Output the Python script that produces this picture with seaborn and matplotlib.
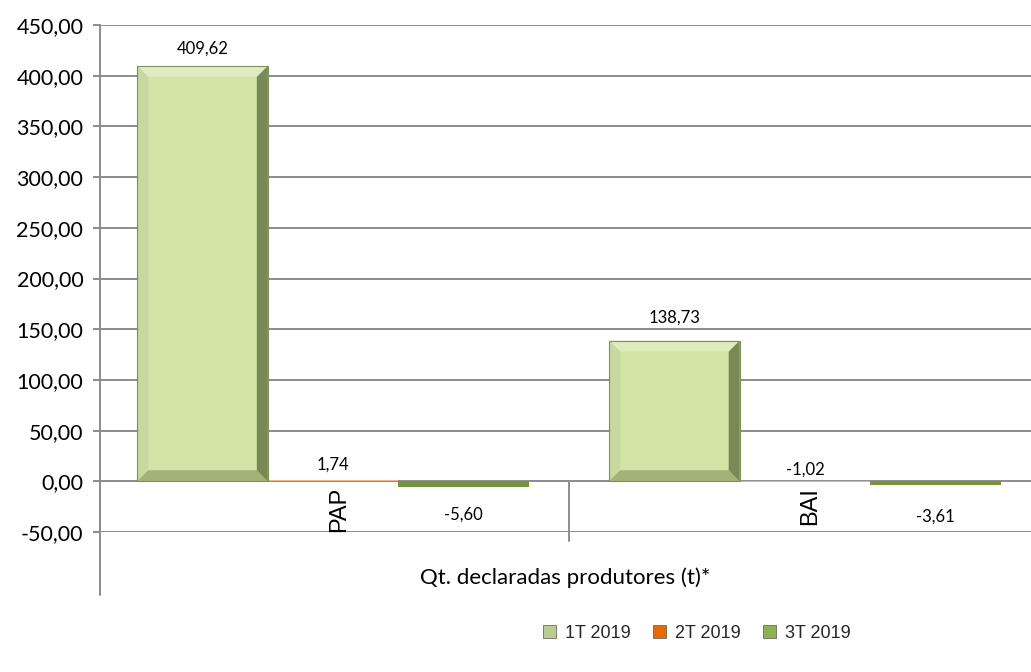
import numpy as np
import pandas as pd
import matplotlib
matplotlib.use("Agg")
import matplotlib.pyplot as plt
from matplotlib.patches import Polygon, Patch
import seaborn as sns

# ---- data ----
categories = ["PAP", "BAI"]
series = ["1T 2019", "2T 2019", "3T 2019"]
values_1t = [409.62, 138.73]
values_2t = [1.74, -1.02]
values_3t = [-5.60, -3.61]
group_label = "Qt. declaradas produtores (t)*"
y_ticks = [-50, 0, 50, 100, 150, 200, 250, 300, 350, 400, 450]

rows = []
for s, vals in zip(series, [values_1t, values_2t, values_3t]):
    for c, v in zip(categories, vals):
        rows.append({"cat": c, "serie": s, "valor": v})
df = pd.DataFrame(rows)

# ---- style ----
sns.set_theme(style="white")
plt.rcParams["font.family"] = ["Lato", "DejaVu Sans"]

bar_colors = {"1T 2019": "#D2E3A6", "2T 2019": "#F4B183", "3T 2019": "#77933C"}
legend_colors = {"1T 2019": "#B9CB8E", "2T 2019": "#E36C09", "3T 2019": "#8DB255"}
grid_color = "#8C8C8C"

fig = plt.figure(figsize=(10.31, 6.72), dpi=100)
ax = fig.add_axes([100 / 1031, 140 / 672, 931 / 1031, 507 / 672])

BAR_W = 0.83
sns.barplot(data=df, x="cat", y="valor", hue="serie", order=categories,
            hue_order=series, palette=bar_colors, ax=ax, width=BAR_W,
            edgecolor="none", linewidth=0, legend=False, saturation=1)

ax.set_ylim(y_ticks[0], y_ticks[-1])
XL = (-0.494, 1.479)
ax.set_xlim(*XL)
ax.set_yticks(y_ticks)
ax.set_yticklabels([f"{t:.2f}".replace(".", ",") for t in y_ticks], fontsize=15.5,
                   color="#000000")
ax.yaxis.grid(True, color=grid_color, linewidth=1.4)
ax.set_axisbelow(True)
ax.set_xticks([])
ax.set_xlabel("")
ax.set_ylabel("")
for sp in ["top", "right", "bottom"]:
    ax.spines[sp].set_visible(False)
ax.spines["left"].set_color(grid_color)
ax.spines["left"].set_linewidth(1.4)
ax.tick_params(axis="y", direction="out", length=5, width=1.4, color=grid_color,
               pad=7, left=True)

# bevel effect on large bars (derived from the library's own patches)
px_per_x = 931 / (XL[1] - XL[0])
px_per_y = 507 / 500
bev = 11
for p in ax.patches:
    h = p.get_height()
    if abs(h) < 30:
        continue
    x0, w, y0 = p.get_x(), p.get_width(), p.get_y()
    x1, y1 = x0 + w, y0 + h
    bx, by = bev / px_per_x, bev / px_per_y
    top = [(x0, y1), (x1, y1), (x1 - bx, y1 - by), (x0 + bx, y1 - by)]
    right = [(x1, y1), (x1, y0), (x1 - bx, y0 + by), (x1 - bx, y1 - by)]
    bottom = [(x0, y0), (x1, y0), (x1 - bx, y0 + by), (x0 + bx, y0 + by)]
    left = [(x0, y0), (x0, y1), (x0 + bx, y1 - by), (x0 + bx, y0 + by)]
    for poly, col in [(top, "#E0ECBF"), (left, "#C8D99F"), (bottom, "#A3B377"),
                      (right, "#788956")]:
        ax.add_patch(Polygon(poly, closed=True, facecolor=col, edgecolor="none",
                             zorder=p.get_zorder() + 0.1))
    ax.add_patch(Polygon([(x0, y0), (x0, y1), (x1, y1), (x1, y0)], closed=True,
                         fill=False, edgecolor="#7F8F58", linewidth=0.8,
                         zorder=p.get_zorder() + 0.2))

# data labels
label_offsets = {("1T 2019", "PAP"): 7, ("1T 2019", "BAI"): 11,
                 ("2T 2019", "PAP"): 5, ("2T 2019", "BAI"): 3,
                 ("3T 2019", "PAP"): -14, ("3T 2019", "BAI"): -17}
n_s = len(series)
for si, s in enumerate(series):
    for ci, c in enumerate(categories):
        v = df[(df.serie == s) & (df.cat == c)].valor.iloc[0]
        xc = ci - BAR_W / 2 + BAR_W / n_s * (si + 0.5)
        off = label_offsets[(s, c)]
        ybase = max(v, 0) if off > 0 else min(v, 0)
        ax.annotate(f"{v:.2f}".replace(".", ","), (xc, ybase),
                    xytext=(0, off), textcoords="offset points",
                    ha="center", va="bottom" if off > 0 else "top",
                    fontsize=12, color="#000000")

# category tick labels (rotated)
for ci, c in enumerate(categories):
    ax.annotate(c, (ci, 0), xytext=(4, -4), textcoords="offset points",
                ha="center", va="top", rotation=90, fontsize=17,
                family=["Liberation Sans", "DejaVu Sans"], color="#000000")

# multi-level axis lines
ax.plot([XL[0], XL[0]], [0, -112], color=grid_color, lw=1.4, clip_on=False)
ax.plot([0.5, 0.5], [0, -59], color=grid_color, lw=1.4, clip_on=False)

fig.text(565 / 1031, 1 - 578 / 672, group_label, ha="center", va="center",
         fontsize=16, color="#000000")

handles = [Patch(facecolor=legend_colors[s], edgecolor="#555555", linewidth=0.5)
           for s in series]
fig.legend(handles, series, loc="center", bbox_to_anchor=(697 / 1031, 1 - 633 / 672),
           ncol=3, frameon=False, handlelength=0.75, handleheight=0.75,
           handletextpad=0.5, columnspacing=1.2,
           prop={"family": ["Liberation Sans", "DejaVu Sans"], "size": 13})

fig.savefig("out.png", dpi=100)
